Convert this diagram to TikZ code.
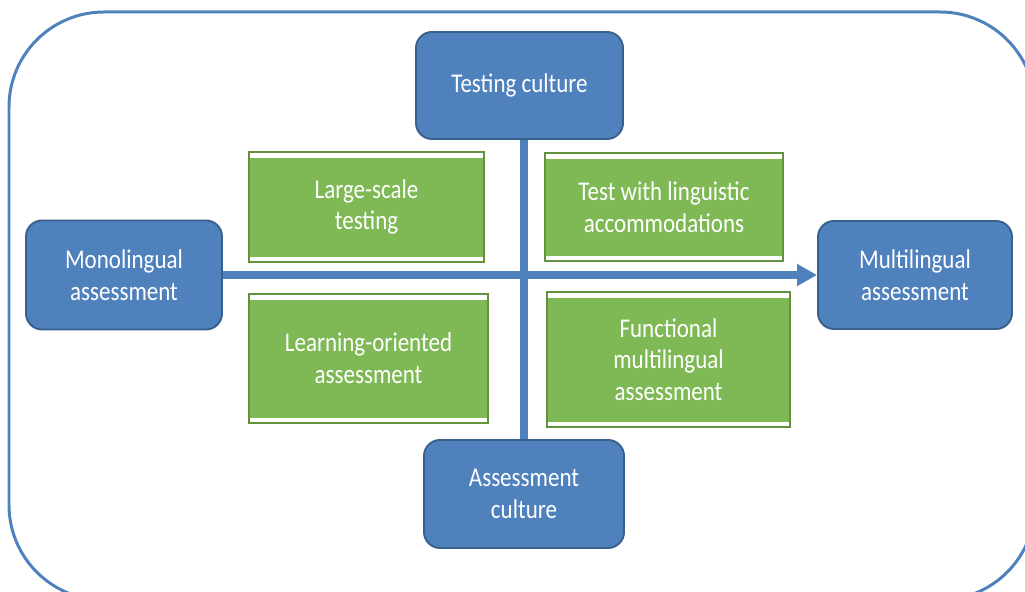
\documentclass[tikz,border=0pt]{standalone}
\usepackage{fontspec}
\setmainfont{Carlito}[FakeStretch=0.85]
\usepackage{xcolor}
\usetikzlibrary{arrows.meta}
\definecolor{cultureblue}{RGB}{79,129,189}
\definecolor{cultureedge}{RGB}{58,96,142}
\definecolor{formgreen}{RGB}{127,185,85}
\definecolor{formedge}{RGB}{100,145,62}
\tikzset{
	culture/.style={
			draw=cultureedge, line width=1.1pt, fill=cultureblue,
			rounded corners=0.32cm, text=white, align=center, inner sep=0pt,
			font=\fontsize{15.4}{18}\selectfont
		},
	form/.style={
			draw=formedge, line width=1.1pt, fill=white,
			text=white, align=center, inner sep=0pt,
			font=\fontsize{15.4}{18}\selectfont,
			path picture={
					\fill[formgreen] ([yshift=-0.13cm]path picture bounding box.north west)
						rectangle ([yshift=0.1cm]path picture bounding box.south east);
				}
		},
	axis/.style={line width=4pt, cultureblue}
}

\begin{document}
\begin{tikzpicture}
		\useasboundingbox (0, 0) rectangle (20.5, 11.84);
		\draw[cultureblue, line width=1.7pt, rounded corners=1.9cm]	(0.18, -0.16) rectangle (20.7, 11.6);

		\node[culture, minimum width=4.14cm, minimum height=2.14cm]	(testing) at (10.39, 10.13) {Testing culture};
		\node[culture, minimum width=4.0cm, minimum height=2.16cm]	(assessment) at (10.48, 1.96) {Assessment\\culture};
		\node[culture, minimum width=3.92cm, minimum height=2.18cm]	(mono) at (2.48, 6.34) {Monolingual\\assessment};
		\node[culture, minimum width=3.88cm, minimum height=2.16cm]	(multi) at (18.3, 6.34) {Multilingual\\assessment};

		\node[form, minimum width=4.7cm, minimum height=2.2cm]	(largescale) at (7.33, 7.7) {Large-scale\\testing};
		\node[form, minimum width=4.76cm, minimum height=2.16cm]	(accommodations) at (13.28, 7.7) {Test with linguistic\\accommodations};
		\node[form, minimum width=4.78cm, minimum height=2.58cm]	(learning) at (7.37, 4.67) {Learning-oriented\\assessment};
		\node[form, minimum width=4.86cm, minimum height=2.7cm]	(functional) at (13.37, 4.65) {Functional\\multilingual\\assessment};

		\draw[axis]	(testing.south -| assessment.north) to (assessment.north);
		\draw[axis, -{Triangle[length=0.4cm, width=0.42cm]}]	(mono.east) to (multi.west);
	\end{tikzpicture}
\end{document}
